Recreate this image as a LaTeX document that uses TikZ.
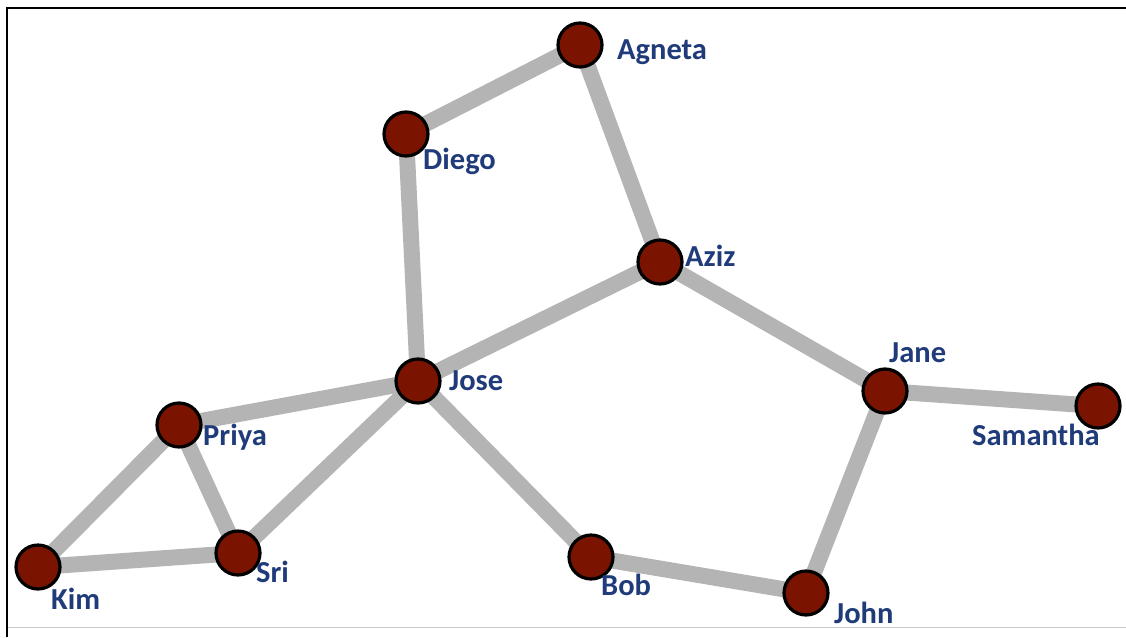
\documentclass[tikz,border=0pt]{standalone}
\usepackage{fontspec}
\setmainfont{Carlito}
\definecolor{nodered}{RGB}{122,19,0}
\definecolor{linkgray}{RGB}{180,180,180}
\definecolor{labelblue}{RGB}{31,59,122}
\definecolor{rulegray}{RGB}{200,200,200}
\tikzset{
  person/.style={circle, fill=nodered, draw=black, line width=3.2pt, minimum size=44pt, inner sep=0pt},
  friendlink/.style={draw=linkgray, line width=16pt},
  nametag/.style={anchor=base west, inner sep=0pt, text=labelblue, font=\bfseries\fontsize{30.5}{32}\selectfont}
}
\begin{document}
\begin{tikzpicture}[x=1pt, y=-1pt]
\useasboundingbox (0,0) rectangle (1126,637);
\fill[white] (0,0) rectangle (1126,637);
% frame
\draw[line width=2.2pt] (7,637) -- (7,8) -- (1126,8);
\draw[rulegray, line width=1pt] (8,627.5) -- (1126,627.5);

% people
\coordinate (pAgneta) at (580,45);
\coordinate (pDiego) at (406,134);
\coordinate (pAziz) at (660,262);
\coordinate (pJose) at (418,381);
\coordinate (pJane) at (885,391);
\coordinate (pSamantha) at (1098,406);
\coordinate (pPriya) at (179,425);
\coordinate (pSri) at (238,553);
\coordinate (pKim) at (38,567);
\coordinate (pBob) at (591,557);
\coordinate (pJohn) at (806,593);

% links
\path[friendlink] (pAgneta) -- (pDiego);
\path[friendlink] (pAgneta) -- (pAziz);
\path[friendlink] (pDiego) -- (pJose);
\path[friendlink] (pAziz) -- (pJose);
\path[friendlink] (pAziz) -- (pJane);
\path[friendlink] (pJane) -- (pSamantha);
\path[friendlink] (pJane) -- (pJohn);
\path[friendlink] (pJohn) -- (pBob);
\path[friendlink] (pBob) -- (pJose);
\path[friendlink] (pJose) -- (pPriya);
\path[friendlink] (pJose) -- (pSri);
\path[friendlink] (pPriya) -- (pSri);
\path[friendlink] (pPriya) -- (pKim);
\path[friendlink] (pKim) -- (pSri);

% nodes
\foreach \p in {Agneta,Diego,Aziz,Jose,Jane,Samantha,Priya,Sri,Kim,Bob,John}
  \node[person] (\p) at (p\p) {};

% names
\node[nametag] (lAgneta) at (617,59) {Agneta};
\node[nametag] (lDiego) at (423,169) {Diego};
\node[nametag] (lAziz) at (685,266) {Aziz};
\node[nametag] (lJose) at (449,390) {Jose};
\node[nametag] (lJane) at (889,362) {Jane};
\node[nametag] (lSamantha) at (972,445) {Samantha};
\node[nametag] (lPriya) at (203,445) {Priya};
\node[nametag] (lSri) at (256,582) {Sri};
\node[nametag] (lKim) at (51,609) {Kim};
\node[nametag] (lBob) at (601,595) {Bob};
\node[nametag] (lJohn) at (834,623) {John};
\end{tikzpicture}
\end{document}
